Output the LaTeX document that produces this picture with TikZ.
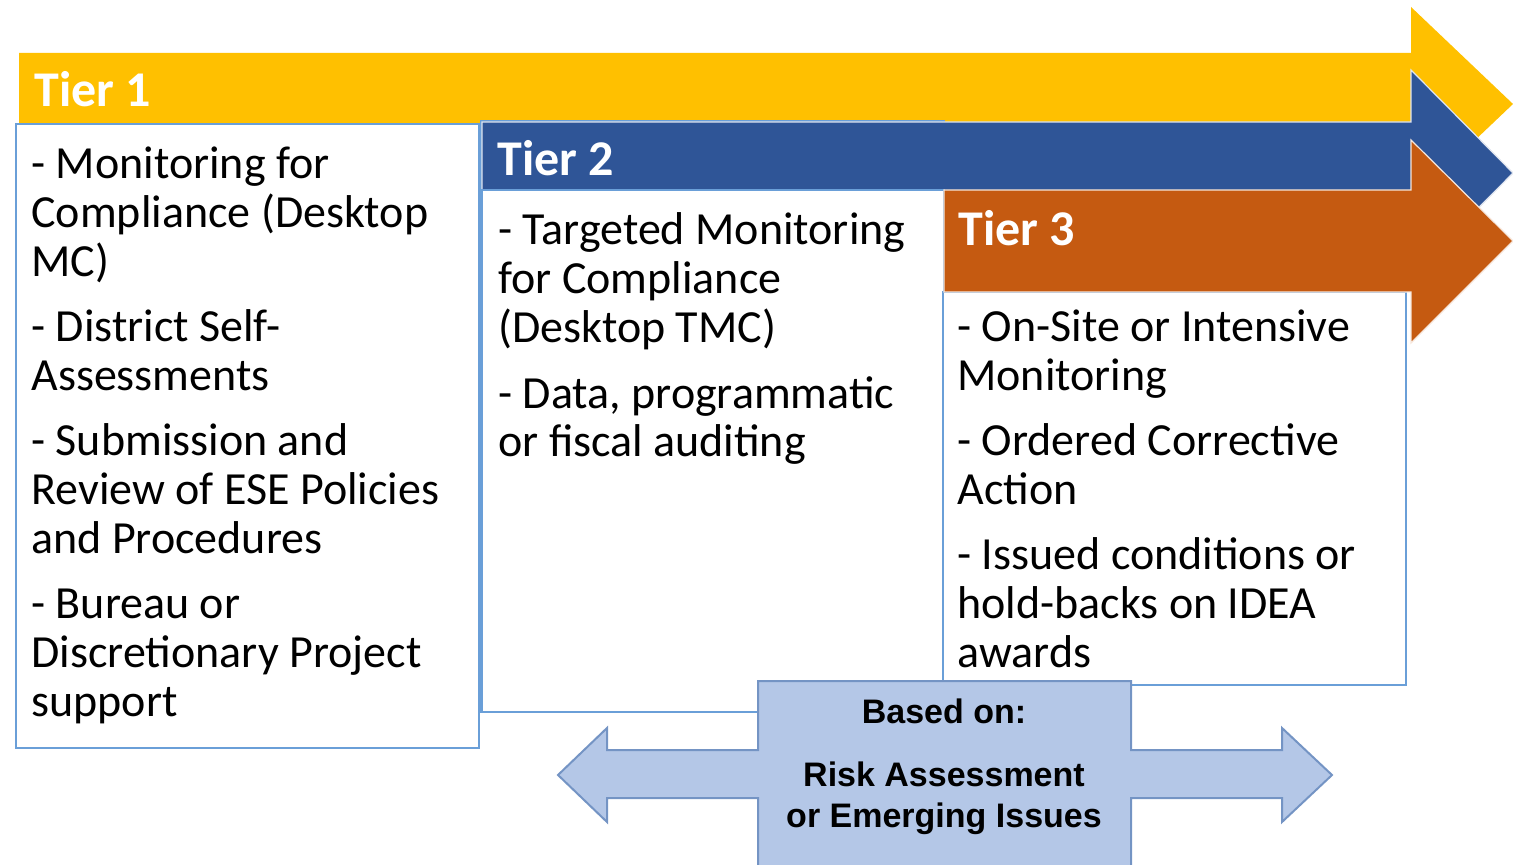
\documentclass[tikz,border=0pt]{standalone}
\usepackage{fontspec}
\setmainfont{Carlito}
\newfontfamily\arialfont{Liberation Sans}
\definecolor{tieryellow}{HTML}{FFC000}
\definecolor{tierblue}{HTML}{2F5597}
\definecolor{tierorange}{HTML}{C55A11}
\definecolor{boxline}{HTML}{6A9FD8}
\definecolor{basisfill}{HTML}{B4C7E7}
\definecolor{basisline}{HTML}{7494C4}
\tikzset{
  tierhead/.style={font=\bfseries\fontsize{25}{30}\selectfont, text=white, anchor=base west, inner sep=0pt},
  tiertext/.style={font=\fontsize{23}{24.5}\selectfont, align=left, anchor=base west, inner sep=0pt},
  tierbox/.style={draw=boxline, fill=white, line width=1pt},
  basistext/.style={font=\arialfont\bfseries\fontsize{17}{20.5}\selectfont, align=center, anchor=base, inner sep=0pt}
}
\begin{document}
\begin{tikzpicture}[x=0.5pt,y=-0.5pt]
  \useasboundingbox (0,0) rectangle (1513,865);
  \clip (0,0) rectangle (1513,865);
  \fill[tieryellow] (19,53) -- (1411,53) -- (1411,7) -- (1513,104) -- (1411,201) -- (1411,155) -- (19,155) -- cycle;
  \draw[tierbox] (16,124) rectangle (479,748);
  \draw[tierbox] (481,121) rectangle (944,712);
  \fill[tierblue, draw=white!85!tierblue, line width=0.6pt] (482,122) -- (1411,122) -- (1411,70) -- (1513,173) -- (1411,276) -- (1411,224) -- (482,224) -- cycle;
  \draw[tierbox] (482,190) rectangle (944,712);
  \draw[tierbox] (943,292) rectangle (1406,685);
  \fill[tierorange, draw=white!85!tierorange, line width=0.6pt] (944,190) -- (1411,190) -- (1411,140) -- (1513,241) -- (1411,343) -- (1411,292) -- (944,292) -- cycle;
  \draw[basisline, fill=basisfill, line width=1pt, line join=miter] (758,681) -- (1131,681) -- (1131,750) -- (1282,750) -- (1282,728) -- (1332,775) -- (1282,822) -- (1282,798) -- (1131,798) -- (1131,880) -- (758,880) -- (758,798) -- (607,798) -- (607,822) -- (558,775) -- (607,728) -- (607,750) -- (758,750) -- cycle;

  \node[tierhead] (tierone) at (34,107) {Tier 1};
  \node[tierhead] (tiertwo) at (497,176) {Tier 2};
  \node[tierhead] (tierthree) at (958,246) {Tier 3};

  % lists sit on the baseline of their last line
  \node[tiertext] (onelist) at (31,716) {- Monitoring for\\Compliance (Desktop\\MC)\\[8pt]- District Self-\\Assessments\\[8pt]- Submission and\\Review of ESE Policies\\and Procedures\\[8pt]- Bureau or\\Discretionary Project\\support};
  \node[tiertext] (twolist) at (498,457) {- Targeted Monitoring\\for Compliance\\(Desktop TMC)\\[8pt]- Data, programmatic\\or fiscal auditing};
  \node[tiertext] (threelist) at (957,667) {- On-Site or Intensive\\Monitoring\\[8pt]- Ordered Corrective\\Action\\[8pt]- Issued conditions or\\hold-backs on IDEA\\awards};

  \node[basistext] (basedon) at (944,723) {Based on:};
  \node[basistext] (risk) at (944,827) {Risk Assessment\\or Emerging Issues};
\end{tikzpicture}
\end{document}
